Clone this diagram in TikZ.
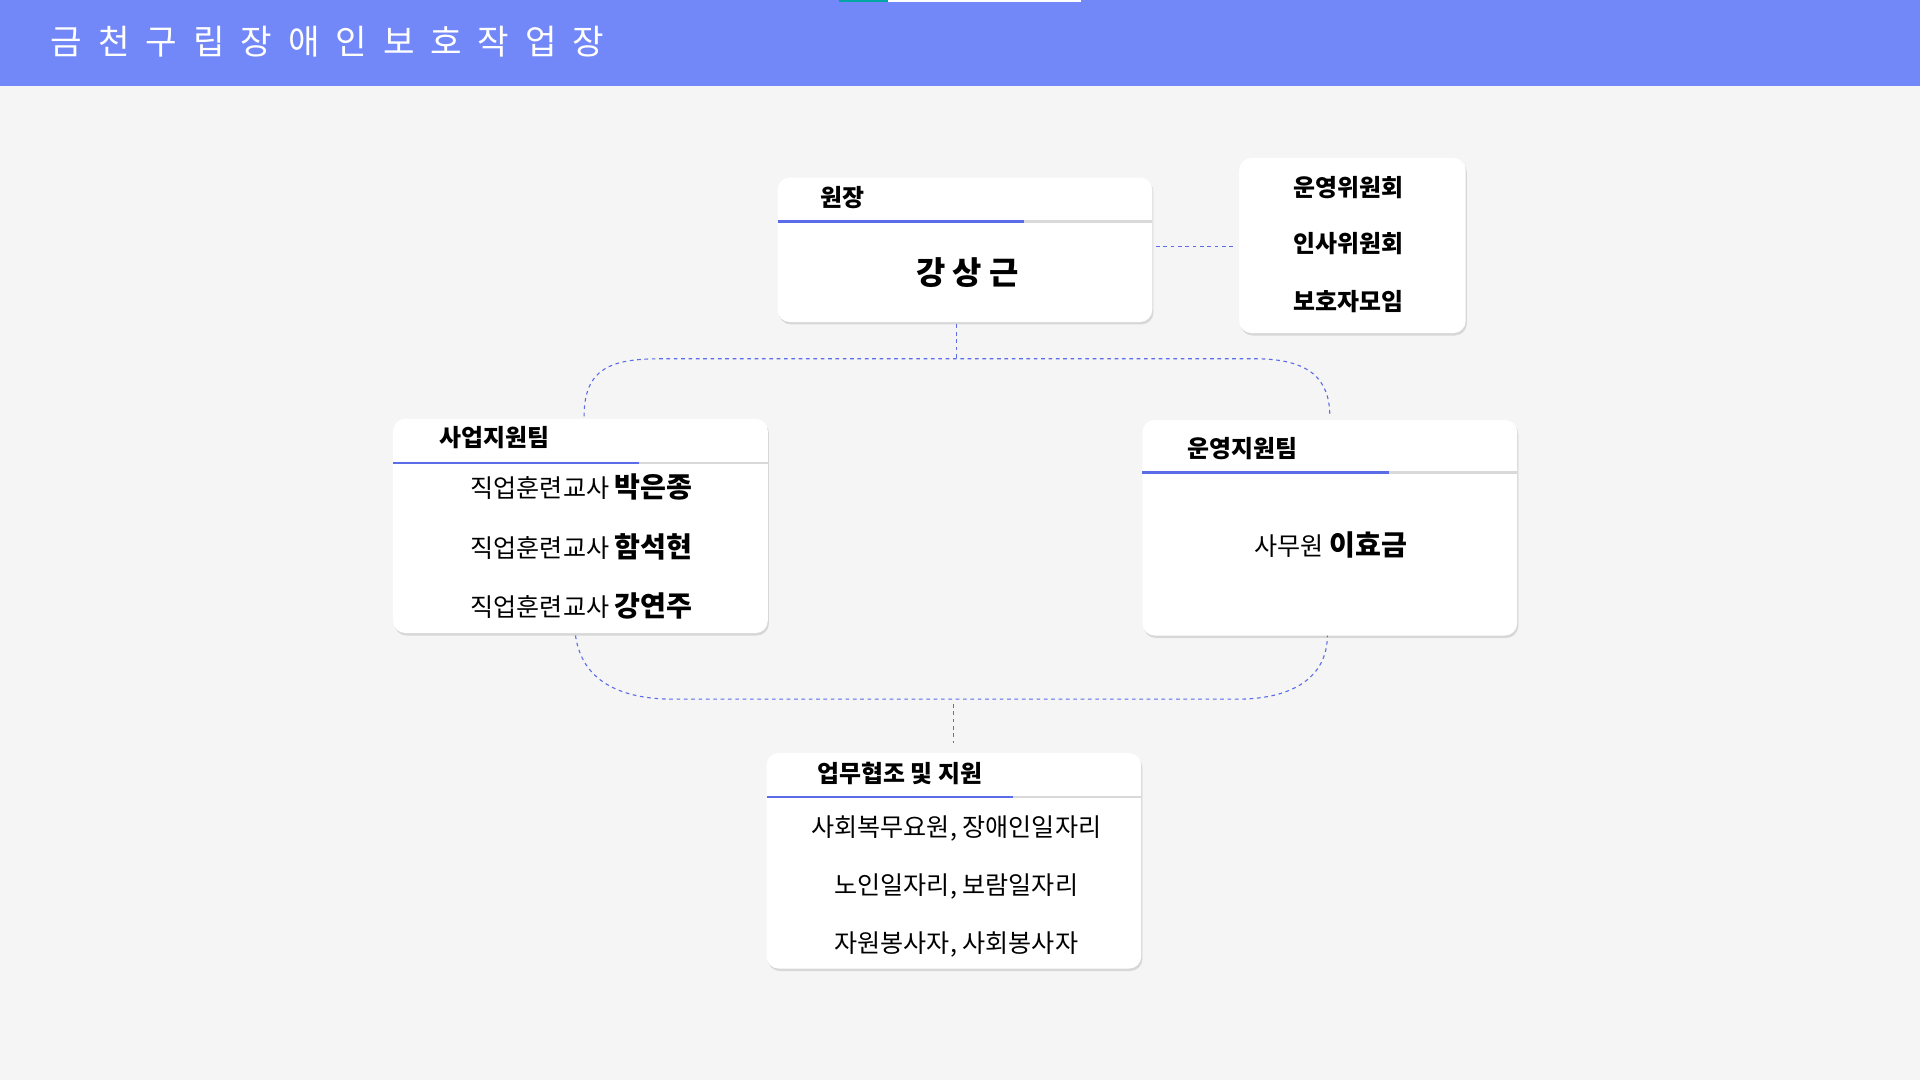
\documentclass[tikz,border=0pt]{standalone}
\usepackage{fontspec}
\setmainfont{Noto Sans CJK KR}
\usetikzlibrary{shadows}
\definecolor{bar}{HTML}{7388F8}
\definecolor{bg}{HTML}{F5F5F5}
\definecolor{ln}{HTML}{5A6CE8}
\newcommand{\gp}{\hspace{13pt}}
\tikzset{
 card/.style={draw=none,fill=white,rounded corners=10pt,drop shadow={shadow xshift=1pt,shadow yshift=-2pt,opacity=0.25}},
 dl/.style={draw=ln,dashed,line width=0.9pt},
 hd/.style={font=\fontsize{19.5}{21}\selectfont\bfseries},
 tx/.style={font=\fontsize{20.5}{23}\selectfont},
}
\begin{document}
\begin{tikzpicture}[x=1pt,y=-1pt]
\useasboundingbox (0,0) rectangle (1568,882);
\fill[bg] (0,0) rectangle (1568,882);
\fill[bar] (0,0) rectangle (1568,70);
\draw[white,line width=1.5pt] (725,0.7)--(883,0.7);
\draw[teal!70!cyan,line width=1.5pt] (685,0.7)--(725,0.7);
\node[anchor=west,white,font=\fontsize{28}{30}\selectfont] (title) at (38,34) {금\gp 천\gp 구\gp 립\gp 장\gp 애\gp 인\gp 보\gp 호\gp 작\gp 업\gp 장};
% boxes
\path[card] (635,145) rectangle (941,263);
\path[card] (1012,129) rectangle (1197,272);
\path[card] (321,342) rectangle (627,517);
\path[card] (933,343) rectangle (1239,519);
\path[card] (626,615) rectangle (932,791);
% header lines
\draw[gray!30,line width=2pt] (635,181)--(941,181);\draw[ln,line width=2pt] (635,181)--(836,181);
\draw[gray!30,line width=2pt] (321,378)--(627,378);\draw[ln,line width=2pt] (321,378)--(522,378);
\draw[gray!30,line width=2pt] (933,386)--(1239,386);\draw[ln,line width=2pt] (933,386)--(1134,386);
\draw[gray!30,line width=2pt] (626,651)--(932,651);\draw[ln,line width=2pt] (626,651)--(827,651);
% texts
\node[hd] (h1) at (688,161) {원장};
\node[font=\fontsize{26}{28}\selectfont\bfseries] (n1) at (790,223) {강 상 근};
\node[hd] (c1) at (1101,153) {운영위원회};
\node[hd] (c2) at (1101,199) {인사위원회};
\node[hd] (c3) at (1101,246) {보호자모임};
\node[hd] (h2) at (404,357) {사업지원팀};
\node[tx] (t21) at (475,398) {직업훈련교사 {\bfseries\fontsize{23}{24}\selectfont 박은종}};
\node[tx] (t22) at (475,447) {직업훈련교사 {\bfseries\fontsize{23}{24}\selectfont 함석현}};
\node[tx] (t23) at (475,495) {직업훈련교사 {\bfseries\fontsize{23}{24}\selectfont 강연주}};
\node[hd] (h3) at (1015,366) {운영지원팀};
\node[tx] (t31) at (1087,445) {사무원 {\bfseries\fontsize{23}{24}\selectfont 이효금}};
\node[hd] (h4) at (735,632) {업무협조 및 지원};
\node[tx] (t41) at (781,677) {사회복무요원, 장애인일자리};
\node[tx] (t42) at (781,724) {노인일자리, 보람일자리};
\node[tx] (t43) at (781,771) {자원봉사자, 사회봉사자};
% connectors
\coordinate (a1) at (944,201); \coordinate (a2) at (1008,201);
\draw[dl] (a1)--(a2);
\coordinate (v1) at (781,265); \coordinate (v2) at (781,293);
\draw[dl] (v1)--(v2);
\draw[dl] (477,340) .. controls (477,300) and (500,293) .. (540,293) -- (1025,293) .. controls (1070,293) and (1086,310) .. (1086,340);
\draw[dl] (470,519) .. controls (475,555) and (505,571) .. (550,571) -- (1010,571) .. controls (1060,571) and (1084,550) .. (1084,519);
\coordinate (v3) at (779,575); \coordinate (v4) at (779,607);
\draw[dl] (v3)--(v4);
\end{tikzpicture}
\end{document}
